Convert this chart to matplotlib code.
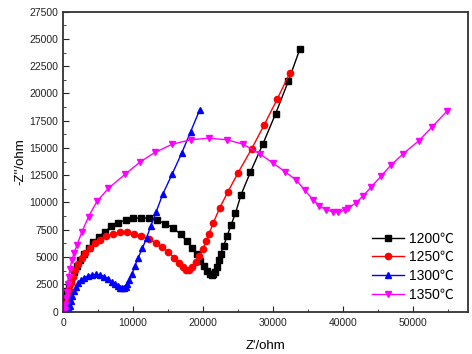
import matplotlib
matplotlib.use("Agg")
import matplotlib.pyplot as plt
from matplotlib.ticker import MultipleLocator

plt.rcParams["font.family"] = ["Liberation Sans", "Noto Sans CJK SC", "DejaVu Sans"]

labels = ["1200℃", "1250℃", "1300℃", "1350℃"]
colors = ["black", "red", "blue", "magenta"]
markers = ["s", "o", "^", "v"]

# 1200 C
z_re_1200 = [150, 250, 400, 600, 850, 1150, 1500, 1950, 2450, 3000, 3650, 4350,
             5100, 5950, 6900, 7900, 8950, 10050, 11200, 12350, 13500, 14650,
             15750, 16800, 17700, 18450, 19100, 19650, 20150, 20600, 20950,
             21250, 21500, 21750, 22000, 22250, 22550, 22950, 23450, 24000,
             24650, 25450, 26800, 28600, 30400, 32200, 33850]
z_im_1200 = [200, 700, 1300, 1900, 2500, 3100, 3650, 4200, 4750, 5300, 5850,
             6350, 6850, 7300, 7800, 8150, 8400, 8550, 8600, 8550, 8350, 8050,
             7650, 7100, 6450, 5850, 5250, 4650, 4150, 3700, 3450, 3350, 3400,
             3650, 4100, 4700, 5300, 6000, 6900, 7900, 9000, 10700, 12800,
             15400, 18150, 21100, 24050]

# 1250 C
z_re_1250 = [300, 450, 650, 850, 1100, 1400, 1750, 2150, 2650, 3200, 3850,
             4550, 5350, 6200, 7100, 8100, 9100, 10150, 11200, 12250, 13250,
             14200, 15050, 15850, 16550, 17150, 17600, 17950, 18400, 18950,
             19500, 20000, 20450, 20900, 21500, 22400, 23550, 25050, 26950,
             28750, 30600, 32400]
z_im_1250 = [300, 800, 1400, 2000, 2600, 3200, 3800, 4350, 4900, 5400, 5850,
             6250, 6600, 6900, 7100, 7250, 7250, 7150, 6950, 6650, 6300, 5900,
             5450, 4950, 4450, 4050, 3800, 3800, 4050, 4500, 5050, 5750, 6450,
             7150, 8150, 9500, 10950, 12750, 14900, 17100, 19450, 21850]

# 1300 C
z_re_1300 = [850, 950, 1100, 1300, 1550, 1850, 2200, 2600, 3050, 3550, 4100,
             4700, 5300, 5900, 6450, 6950, 7400, 7800, 8100, 8400, 8700, 8950,
             9200, 9500, 9850, 10250, 10750, 11350, 11950, 12550, 13300, 14250,
             15600, 16950, 18250, 19550]
z_im_1300 = [100, 500, 950, 1400, 1850, 2250, 2600, 2900, 3100, 3250, 3350,
             3400, 3350, 3200, 3000, 2750, 2500, 2300, 2200, 2150, 2150, 2250,
             2500, 2900, 3400, 4150, 4950, 5800, 6750, 7850, 9100, 10750,
             12600, 14500, 16500, 18500]

# 1350 C
z_re_1350 = [300, 350, 420, 520, 650, 800, 1000, 1250, 1600, 2000, 2700, 3650,
             4850, 6500, 8900, 11000, 13150, 15650, 18250, 20850, 23400, 25750,
             28150, 30050, 31800, 33350, 34600, 35750, 36650, 37650, 38600,
             39350, 40250, 40800, 41850, 42900, 44100, 45450, 46850, 48600,
             50850, 52800, 54850]
z_im_1350 = [100, 600, 1200, 1800, 2500, 3200, 3900, 4700, 5400, 6100, 7300,
             8700, 10100, 11300, 12600, 13700, 14600, 15350, 15750, 15900,
             15750, 15350, 14450, 13600, 12800, 12050, 11100, 10250, 9700, 9300,
             9150, 9100, 9300, 9500, 9950, 10600, 11450, 12400, 13400, 14450,
             15650, 16950, 18350]

series = [(z_re_1200, z_im_1200), (z_re_1250, z_im_1250),
          (z_re_1300, z_im_1300), (z_re_1350, z_im_1350)]

fig = plt.figure(figsize=(4.72, 3.54), dpi=100)
ax = fig.add_axes([0.1335, 0.12, 0.858, 0.847])

for (x, y), lab, c, m in zip(series, labels, colors, markers):
    ax.plot(x, y, color=c, marker=m, markersize=4.5, linewidth=1, label=lab)

ax.set_xlim(0, 57900)
ax.set_ylim(0, 27500)
ax.xaxis.set_major_locator(MultipleLocator(10000))
ax.xaxis.set_minor_locator(MultipleLocator(5000))
ax.yaxis.set_major_locator(MultipleLocator(2500))
ax.yaxis.set_minor_locator(MultipleLocator(1250))
ax.tick_params(which="both", direction="in", labelsize=7.5, colors="#222222")
ax.tick_params(which="major", length=4)
ax.tick_params(axis="x", pad=5)
ax.tick_params(which="minor", length=2.5)
for s in ax.spines.values():
    s.set_linewidth(1.3)
    s.set_color("#333333")

ax.set_xlabel("Z'/ohm", fontsize=9.5, labelpad=8)
ax.set_ylabel("-Z''/ohm", fontsize=9.5, labelpad=2)

ax.legend(loc="lower right", bbox_to_anchor=(0.995, -0.01), frameon=False,
          fontsize=10, handlelength=2.3, handletextpad=0.3, labelspacing=0.35)

fig.savefig("out.png", dpi=100)
